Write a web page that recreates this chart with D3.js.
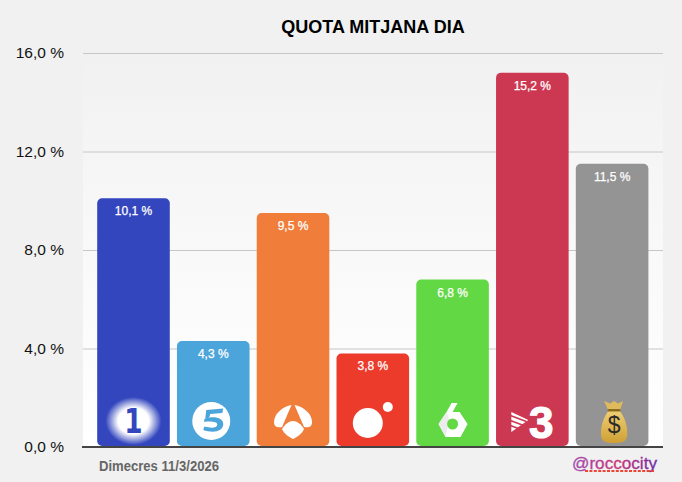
<!DOCTYPE html>
<html>
<head>
<meta charset="utf-8">
<script src="https://cdn.jsdelivr.net/npm/d3@7"></script>
<style>
  html, body { margin: 0; padding: 0; background: #f1f1f1; }
  svg { display: block; }
  text { font-family: "Liberation Sans", Arial, sans-serif; }
</style>
</head>
<body>
<svg id="chart" width="682" height="482"></svg>
<script>
var channels = ['la1', 't5', 'a3', 'cuatro', 'la6', 'tv3', 'resta'];
var shares = [10.1, 4.3, 9.5, 3.8, 6.8, 15.2, 11.5];
var barColors = ['#3346be', '#4ba4da', '#f07d3a', '#ec3a2b', '#63d845', '#cc3852', '#949494'];
var yTicks = [0, 4, 8, 12, 16];

var W = 682, H = 482;
var left = 83, right = 663, top_ = 53, bottom = 447;

var svg = d3.select('#chart');
var defs = svg.append('defs');

function comma(v) {
  return v.toFixed(1).replace('.', ',') + ' %';
}

var x = d3.scaleBand().domain(channels).range([93.6, 652]).paddingInner(0.09).paddingOuter(0.045);
var y = d3.scaleLinear().domain([0, 16]).range([bottom, top_]);

// plot background fades from page grey to white
var bg = defs.append('linearGradient').attr('id', 'plotbg').attr('x1', 0).attr('x2', 0).attr('y1', 0).attr('y2', 1);
bg.append('stop').attr('offset', '0%').attr('stop-color', '#f1f1f1');
bg.append('stop').attr('offset', '50%').attr('stop-color', '#f9f9f9');
bg.append('stop').attr('offset', '100%').attr('stop-color', '#ffffff');

svg.append('rect').attr('x', left).attr('y', top_).attr('width', right - left).attr('height', bottom - top_).attr('fill', 'url(#plotbg)');

// axis + grid
var axis = svg.append('g').attr('transform', 'translate(' + left + ',0)')
  .call(d3.axisLeft(y).tickValues(yTicks).tickFormat(comma).tickSize(-(right - left)).tickPadding(19));
axis.select('.domain').remove();
axis.selectAll('line').attr('stroke', '#c6c6c6').attr('stroke-width', 1);
axis.selectAll('text').attr('fill', '#111').style('font-size', '15.5px').style('font-family', '"Liberation Sans", Arial, sans-serif');

svg.append('text').attr('x', 373).attr('y', 33).attr('text-anchor', 'middle')
  .style('font-size', '18px').style('font-weight', 'bold').attr('fill', '#000').text('QUOTA MITJANA DIA');

// bars
svg.selectAll('rect.bar').data(channels).enter().append('rect')
  .attr('class', 'bar')
  .attr('x', function(d) { return x(d); })
  .attr('y', function(d, i) { return y(shares[i]); })
  .attr('width', x.bandwidth())
  .attr('height', function(d, i) { return y(0) - y(shares[i]) - 1; })
  .attr('rx', 5)
  .attr('fill', function(d, i) { return barColors[i]; });

svg.selectAll('text.val').data(channels).enter().append('text')
  .attr('class', 'val')
  .attr('x', function(d) { return x(d) + x.bandwidth() / 2; })
  .attr('y', function(d, i) { return y(shares[i]) + 17; })
  .attr('text-anchor', 'middle')
  .attr('fill', '#fff')
  .attr('stroke', '#fff').attr('stroke-width', 0.25)
  .style('font-size', '12px')
  .text(function(d, i) { return comma(shares[i]); });

svg.append('line').attr('x1', 82).attr('x2', right).attr('y1', 447).attr('y2', 447).attr('stroke', '#444').attr('stroke-width', 2);

/* ======================================
 * Channel logos, each drawn around (bar centre, baseline)
 */
function logo(name) {
  return svg.append('g').attr('transform', 'translate(' + (x(name) + x.bandwidth() / 2) + ',' + y(0) + ')');
}

// la 1
var glow = defs.append('radialGradient').attr('id', 'glow');
glow.append('stop').attr('offset', '55%').attr('stop-color', '#fff');
glow.append('stop').attr('offset', '100%').attr('stop-color', '#fff').attr('stop-opacity', 0);
var l1 = logo('la1');
l1.append('ellipse').attr('cx', 0).attr('cy', -26).attr('rx', 28).attr('ry', 24).attr('fill', 'url(#glow)');
l1.append('text').attr('x', 0).attr('y', -14).attr('text-anchor', 'middle').attr('fill', '#3346be')
  .style('font-family', '"DejaVu Sans"').style('font-weight', 'bold').style('font-size', '33px')
  .attr('transform', 'translate(0,-14) scale(0.8,1) translate(0,14)').text('1');

// telecinco
var l5 = logo('t5');
l5.append('circle').attr('cx', -2).attr('cy', -26).attr('r', 19).attr('fill', '#fff');
l5.append('path').attr('d', 'M-7,-37 L10,-38.5 L9,-34 L-3,-33 L-4,-29.5 L-8,-28 Z').attr('fill', '#4ba4da');
l5.append('path').attr('d', 'M-9,-28 C0,-31.5 10,-29.5 10,-23 C10,-15.5 0,-13.5 -10,-17 L-9,-20.5 C-2,-18.5 4,-19 4,-22.5 C4,-25.5 -3,-26 -9,-25 Z').attr('fill', '#4ba4da');

// antena 3
var l3 = logo('a3');
l3.append('path').attr('d', 'M-19,-25 C-19,-33 -10,-41 -1.5,-42 L-11,-20 C-15,-19 -19,-20 -19,-25 Z').attr('fill', '#fff');
l3.append('path').attr('d', 'M19,-25 C19,-33 10,-41 1.5,-42 L11,-20 C15,-19 19,-20 19,-25 Z').attr('fill', '#fff');
l3.append('path').attr('d', 'M-11,-18 C-8,-23 -4,-26 0,-26 C4,-26 8,-23 11,-18 C9,-13 4,-10 0,-8 C-4,-10 -9,-13 -11,-18 Z').attr('fill', '#fff');

// cuatro
var l4 = logo('cuatro');
l4.append('circle').attr('cx', -5).attr('cy', -24).attr('r', 15).attr('fill', '#fff');
l4.append('circle').attr('cx', 15).attr('cy', -40).attr('r', 5).attr('fill', '#fff');

// la sexta
var l6 = logo('la6');
l6.append('path').attr('d', 'M-14,-23 L-6,-35 L-1,-44 L5,-44 L0,-35 L7,-35 L15,-23 L8,-10 L-7,-10 Z').attr('fill', '#fff');
l6.append('path').attr('d', 'M-14,-23 L-6,-35 L-3,-27 L-7,-10 Z').attr('fill', '#ececec');
l6.append('circle').attr('cx', 0).attr('cy', -23).attr('r', 5.5).attr('fill', '#63d845');

// striped triangle + 3
var l7 = logo('tv3');
l7.append('path').attr('d', 'M-21,-35 L-4,-27 L-21,-15 Z').attr('fill', '#fff');
[-31.5, -26.5, -21.5].forEach(function(ly) {
  l7.append('line').attr('x1', -22).attr('x2', -6).attr('y1', ly).attr('y2', ly + 6).attr('stroke', '#cc3852').attr('stroke-width', 1.6);
});
l7.append('text').attr('x', 9).attr('y', -9).attr('text-anchor', 'middle').attr('fill', '#fff')
  .attr('stroke', '#fff').attr('stroke-width', 1.2)
  .style('font-size', '44px').style('font-weight', 'bold').text('3');

// money bag
var gold = defs.append('linearGradient').attr('id', 'gold').attr('x1', 0).attr('x2', 0).attr('y1', 0).attr('y2', 1);
gold.append('stop').attr('offset', '0%').attr('stop-color', '#efcf74');
gold.append('stop').attr('offset', '100%').attr('stop-color', '#cfa035');
var l8 = logo('resta');
l8.append('path').attr('d', 'M-3,-37 C-8,-31 -12,-21 -11,-11 C-10,-5 -6,-4 2,-4 C10,-4 14,-5 15,-11 C16,-21 12,-31 7,-37 Z').attr('fill', 'url(#gold)');
l8.append('path').attr('d', 'M-8,-46 L-2,-43.5 L2,-46 L6,-43.5 L11,-46 L8,-37 L-4,-37 Z').attr('fill', '#e0bb5c');
l8.append('rect').attr('x', -4.5).attr('y', -38).attr('width', 13).attr('height', 2.4).attr('rx', 1.2).attr('fill', '#8a6a1f');
l8.append('text').attr('x', 2).attr('y', -14).attr('text-anchor', 'middle').attr('fill', '#2b2b2b')
  .style('font-size', '23px').text('$');

// footer
svg.append('text').attr('x', 99).attr('y', 471).attr('fill', '#666')
  .attr('textLength', 120).attr('lengthAdjust', 'spacingAndGlyphs')
  .style('font-size', '14.5px').style('font-weight', 'bold').text('Dimecres 11/3/2026');

var sig = defs.append('linearGradient').attr('id', 'sig').attr('gradientUnits', 'userSpaceOnUse').attr('x1', 572).attr('x2', 658).attr('y1', 0).attr('y2', 0);
sig.append('stop').attr('offset', '0%').attr('stop-color', '#a04ab0');
sig.append('stop').attr('offset', '55%').attr('stop-color', '#c8357a');
sig.append('stop').attr('offset', '100%').attr('stop-color', '#6a2aa8');
svg.append('text').attr('x', 572).attr('y', 469).attr('fill', 'url(#sig)')
  .attr('stroke', 'url(#sig)').attr('stroke-width', 0.3)
  .attr('textLength', 85).attr('lengthAdjust', 'spacingAndGlyphs')
  .style('font-size', '16.5px').text('@roccocity');
svg.append('line').attr('x1', 585).attr('x2', 655).attr('y1', 471).attr('y2', 471)
  .attr('stroke', '#ee4433').attr('stroke-width', 2).attr('stroke-dasharray', '3,1.4');
</script>
</body>
</html>
